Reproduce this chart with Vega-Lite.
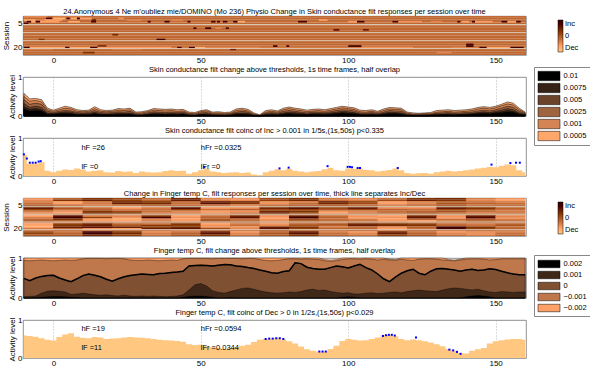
{
"$schema":"https://vega.github.io/schema/vega-lite/v6.json",
"background":"white",
"padding":{"left":1,"top":7,"right":0,"bottom":0},
"config":{
 "font":"Liberation Sans",
 "view":{"stroke":"#777","strokeWidth":0.8},
 "axis":{"labelFont":"Liberation Sans","labelFontSize":8,"labelColor":"#000","titleFont":"Liberation Sans","titleFontSize":8,"titleFontWeight":"normal","titleColor":"#000","ticks":false,"domain":false,"labelPadding":1,"titlePadding":3,"gridColor":"#999","gridDash":[1,2],"gridWidth":0.7},
 "title":{"font":"Liberation Sans","fontSize":7.5,"fontWeight":"normal","color":"#000","offset":3,"anchor":"middle"},
 "legend":{"labelFont":"Liberation Sans","labelFontSize":7.5,"labelColor":"#000"},
 "text":{"font":"Liberation Sans","fontSize":7.5}
},
"datasets":{
"ts":[
{"t":-10,"a":0.58,"b":0.5,"c":0.42,"d":0.32,"e":0.24,"f":0.18,"p":0.55,"q":1,"r":0.94,"m":0.49,"u":0.03,"w":0,"z":0.59},
{"t":-8,"a":0.44,"b":0.38,"c":0.3,"d":0.22,"e":0.17,"f":0.12,"p":0.32,"q":1,"r":0.93,"m":0.43,"u":0.04,"w":0,"z":0.58},
{"t":-6,"a":0.45,"b":0.4,"c":0.33,"d":0.25,"e":0.19,"f":0.14,"p":0.33,"q":1,"r":0.94,"m":0.5,"u":0.05,"w":0.01,"z":0.56},
{"t":-4,"a":0.42,"b":0.36,"c":0.3,"d":0.22,"e":0.16,"f":0.12,"p":0.36,"q":1,"r":0.95,"m":0.54,"u":0.12,"w":0.02,"z":0.52},
{"t":-2,"a":0.2,"b":0.16,"c":0.12,"d":0.08,"e":0.06,"f":0.04,"p":0.14,"q":1,"r":0.94,"m":0.56,"u":0.17,"w":0.03,"z":0.48},
{"t":0,"a":0.15,"b":0.12,"c":0.09,"d":0.06,"e":0.05,"f":0.04,"p":0.1,"q":1,"r":0.93,"m":0.57,"u":0.18,"w":0.04,"z":0.46},
{"t":2,"a":0.2,"b":0.16,"c":0.12,"d":0.09,"e":0.07,"f":0.05,"p":0.14,"q":1,"r":0.94,"m":0.5,"u":0.17,"w":0.04,"z":0.55},
{"t":4,"a":0.25,"b":0.2,"c":0.15,"d":0.11,"e":0.08,"f":0.06,"p":0.17,"q":1,"r":0.95,"m":0.45,"u":0.15,"w":0.03,"z":0.62},
{"t":6,"a":0.22,"b":0.18,"c":0.13,"d":0.1,"e":0.07,"f":0.05,"p":0.16,"q":1,"r":0.94,"m":0.41,"u":0.09,"w":0.02,"z":0.65},
{"t":8,"a":0.16,"b":0.12,"c":0.09,"d":0.06,"e":0.04,"f":0.03,"p":0.2,"q":1,"r":0.95,"m":0.48,"u":0.1,"w":0.01,"z":0.56},
{"t":10,"a":0.14,"b":0.11,"c":0.08,"d":0.06,"e":0.04,"f":0.03,"p":0.17,"q":1,"r":0.98,"m":0.56,"u":0.12,"w":0,"z":0.53},
{"t":12,"a":0.15,"b":0.12,"c":0.09,"d":0.06,"e":0.04,"f":0.03,"p":0.12,"q":1,"r":0.99,"m":0.6,"u":0.1,"w":0,"z":0.52},
{"t":14,"a":0.24,"b":0.19,"c":0.14,"d":0.1,"e":0.07,"f":0.05,"p":0.14,"q":1,"r":0.99,"m":0.57,"u":0.08,"w":0,"z":0.55},
{"t":16,"a":0.16,"b":0.12,"c":0.09,"d":0.06,"e":0.04,"f":0.03,"p":0.15,"q":1,"r":0.99,"m":0.53,"u":0.07,"w":0,"z":0.54},
{"t":18,"a":0.14,"b":0.11,"c":0.08,"d":0.05,"e":0.04,"f":0.03,"p":0.1,"q":1,"r":0.98,"m":0.47,"u":0.08,"w":0,"z":0.5},
{"t":20,"a":0.15,"b":0.12,"c":0.09,"d":0.06,"e":0.04,"f":0.03,"p":0.09,"q":1,"r":0.99,"m":0.42,"u":0.06,"w":0,"z":0.51},
{"t":22,"a":0.19,"b":0.15,"c":0.11,"d":0.08,"e":0.06,"f":0.04,"p":0.13,"q":1,"r":0.99,"m":0.48,"u":0.05,"w":0,"z":0.52},
{"t":24,"a":0.18,"b":0.14,"c":0.1,"d":0.07,"e":0.05,"f":0.04,"p":0.11,"q":1,"r":0.98,"m":0.53,"u":0.07,"w":0,"z":0.54},
{"t":26,"a":0.2,"b":0.16,"c":0.12,"d":0.08,"e":0.06,"f":0.04,"p":0.12,"q":1,"r":0.95,"m":0.56,"u":0.05,"w":0,"z":0.55},
{"t":28,"a":0.1,"b":0.07,"c":0.05,"d":0.03,"e":0.02,"f":0.01,"p":0.08,"q":1,"r":0.94,"m":0.58,"u":0.04,"w":0,"z":0.54},
{"t":30,"a":0.11,"b":0.08,"c":0.05,"d":0.03,"e":0.02,"f":0.01,"p":0.12,"q":1,"r":0.94,"m":0.6,"u":0.05,"w":0,"z":0.53},
{"t":32,"a":0.14,"b":0.11,"c":0.08,"d":0.05,"e":0.04,"f":0.03,"p":0.1,"q":1,"r":0.95,"m":0.59,"u":0.04,"w":0,"z":0.52},
{"t":34,"a":0.19,"b":0.15,"c":0.11,"d":0.08,"e":0.06,"f":0.04,"p":0.09,"q":1,"r":0.94,"m":0.58,"u":0.05,"w":0,"z":0.5},
{"t":36,"a":0.18,"b":0.14,"c":0.1,"d":0.07,"e":0.05,"f":0.04,"p":0.1,"q":1,"r":0.93,"m":0.61,"u":0.04,"w":0,"z":0.48},
{"t":38,"a":0.17,"b":0.13,"c":0.09,"d":0.06,"e":0.04,"f":0.03,"p":0.13,"q":1,"r":0.94,"m":0.62,"u":0.03,"w":0,"z":0.47},
{"t":40,"a":0.18,"b":0.14,"c":0.1,"d":0.07,"e":0.05,"f":0.04,"p":0.15,"q":1,"r":0.95,"m":0.64,"u":0.04,"w":0,"z":0.46},
{"t":42,"a":0.16,"b":0.12,"c":0.09,"d":0.06,"e":0.04,"f":0.03,"p":0.13,"q":1,"r":0.94,"m":0.65,"u":0.05,"w":0,"z":0.45},
{"t":44,"a":0.17,"b":0.13,"c":0.1,"d":0.07,"e":0.05,"f":0.04,"p":0.14,"q":1,"r":0.98,"m":0.67,"u":0.08,"w":0.02,"z":0.43},
{"t":46,"a":0.1,"b":0.07,"c":0.05,"d":0.03,"e":0.02,"f":0.01,"p":0.06,"q":1,"r":0.99,"m":0.8,"u":0.2,"w":0.04,"z":0.36},
{"t":48,"a":0.09,"b":0.06,"c":0.04,"d":0.02,"e":0.01,"f":0.01,"p":0.1,"q":1,"r":0.99,"m":0.81,"u":0.33,"w":0.05,"z":0.34},
{"t":50,"a":0.14,"b":0.11,"c":0.08,"d":0.05,"e":0.04,"f":0.03,"p":0.15,"q":1,"r":0.99,"m":0.82,"u":0.36,"w":0.05,"z":0.35},
{"t":52,"a":0.16,"b":0.13,"c":0.09,"d":0.06,"e":0.04,"f":0.03,"p":0.2,"q":1,"r":0.99,"m":0.81,"u":0.3,"w":0.04,"z":0.31},
{"t":54,"a":0.1,"b":0.07,"c":0.05,"d":0.03,"e":0.02,"f":0.01,"p":0.12,"q":1,"r":0.98,"m":0.8,"u":0.18,"w":0.02,"z":0.29},
{"t":56,"a":0.11,"b":0.08,"c":0.05,"d":0.03,"e":0.02,"f":0.01,"p":0.1,"q":1,"r":0.99,"m":0.82,"u":0.14,"w":0,"z":0.26},
{"t":58,"a":0.09,"b":0.06,"c":0.04,"d":0.02,"e":0.01,"f":0.01,"p":0.08,"q":1,"r":0.99,"m":0.84,"u":0.12,"w":0,"z":0.24},
{"t":60,"a":0.1,"b":0.07,"c":0.05,"d":0.03,"e":0.02,"f":0.01,"p":0.09,"q":1,"r":0.99,"m":0.83,"u":0.16,"w":0.01,"z":0.26},
{"t":62,"a":0.18,"b":0.14,"c":0.1,"d":0.07,"e":0.05,"f":0.04,"p":0.1,"q":1,"r":0.99,"m":0.8,"u":0.2,"w":0,"z":0.29},
{"t":64,"a":0.2,"b":0.16,"c":0.12,"d":0.08,"e":0.06,"f":0.04,"p":0.08,"q":1,"r":0.98,"m":0.79,"u":0.24,"w":0,"z":0.32},
{"t":66,"a":0.17,"b":0.13,"c":0.1,"d":0.07,"e":0.05,"f":0.03,"p":0.09,"q":1,"r":0.99,"m":0.76,"u":0.25,"w":0,"z":0.35},
{"t":68,"a":0.08,"b":0.05,"c":0.03,"d":0.02,"e":0.01,"f":0,"p":0.04,"q":1,"r":0.99,"m":0.74,"u":0.22,"w":0,"z":0.42},
{"t":70,"a":0.03,"b":0.02,"c":0.01,"d":0,"e":0,"f":0,"p":0.02,"q":1,"r":0.96,"m":0.7,"u":0.18,"w":0,"z":0.48},
{"t":72,"a":0.14,"b":0.1,"c":0.07,"d":0.05,"e":0.03,"f":0.02,"p":0.1,"q":1,"r":0.94,"m":0.67,"u":0.15,"w":0,"z":0.5},
{"t":74,"a":0.16,"b":0.12,"c":0.09,"d":0.06,"e":0.04,"f":0.03,"p":0.14,"q":1,"r":0.93,"m":0.63,"u":0.13,"w":0,"z":0.51},
{"t":76,"a":0.13,"b":0.1,"c":0.07,"d":0.05,"e":0.03,"f":0.02,"p":0.18,"q":1,"r":0.94,"m":0.62,"u":0.12,"w":0,"z":0.52},
{"t":78,"a":0.2,"b":0.16,"c":0.12,"d":0.08,"e":0.06,"f":0.04,"p":0.15,"q":1,"r":0.96,"m":0.66,"u":0.13,"w":0,"z":0.49},
{"t":80,"a":0.23,"b":0.19,"c":0.14,"d":0.1,"e":0.07,"f":0.05,"p":0.19,"q":1,"r":0.98,"m":0.68,"u":0.15,"w":0,"z":0.44},
{"t":82,"a":0.2,"b":0.16,"c":0.12,"d":0.09,"e":0.06,"f":0.04,"p":0.14,"q":1,"r":0.98,"m":0.88,"u":0.14,"w":0,"z":0.38},
{"t":84,"a":0.18,"b":0.14,"c":0.1,"d":0.07,"e":0.05,"f":0.04,"p":0.12,"q":1,"r":0.97,"m":0.86,"u":0.16,"w":0,"z":0.3},
{"t":86,"a":0.15,"b":0.11,"c":0.08,"d":0.05,"e":0.04,"f":0.03,"p":0.1,"q":1,"r":0.98,"m":0.77,"u":0.2,"w":0,"z":0.23},
{"t":88,"a":0.17,"b":0.13,"c":0.1,"d":0.07,"e":0.05,"f":0.04,"p":0.12,"q":1,"r":0.97,"m":0.74,"u":0.22,"w":0,"z":0.19},
{"t":90,"a":0.18,"b":0.14,"c":0.1,"d":0.07,"e":0.05,"f":0.04,"p":0.13,"q":1,"r":0.96,"m":0.72,"u":0.19,"w":0,"z":0.17},
{"t":92,"a":0.16,"b":0.12,"c":0.09,"d":0.06,"e":0.04,"f":0.03,"p":0.18,"q":0.96,"r":0.93,"m":0.72,"u":0.2,"w":0,"z":0.17},
{"t":94,"a":0.19,"b":0.15,"c":0.11,"d":0.08,"e":0.06,"f":0.04,"p":0.22,"q":0.95,"r":0.92,"m":0.76,"u":0.16,"w":0,"z":0.24},
{"t":96,"a":0.22,"b":0.18,"c":0.14,"d":0.1,"e":0.07,"f":0.05,"p":0.15,"q":0.96,"r":0.93,"m":0.8,"u":0.14,"w":0,"z":0.32},
{"t":98,"a":0.25,"b":0.21,"c":0.16,"d":0.12,"e":0.09,"f":0.07,"p":0.14,"q":1,"r":0.96,"m":0.78,"u":0.12,"w":0.02,"z":0.45},
{"t":100,"a":0.23,"b":0.19,"c":0.15,"d":0.11,"e":0.08,"f":0.06,"p":0.2,"q":1,"r":0.98,"m":0.75,"u":0.13,"w":0.03,"z":0.5},
{"t":102,"a":0.21,"b":0.17,"c":0.13,"d":0.09,"e":0.07,"f":0.05,"p":0.19,"q":1,"r":0.98,"m":0.8,"u":0.1,"w":0.02,"z":0.48},
{"t":104,"a":0.15,"b":0.11,"c":0.08,"d":0.05,"e":0.04,"f":0.03,"p":0.2,"q":1,"r":0.97,"m":0.84,"u":0.1,"w":0,"z":0.46},
{"t":106,"a":0.14,"b":0.1,"c":0.07,"d":0.05,"e":0.03,"f":0.02,"p":0.16,"q":1,"r":0.98,"m":0.76,"u":0.12,"w":0,"z":0.47},
{"t":108,"a":0.16,"b":0.12,"c":0.09,"d":0.06,"e":0.04,"f":0.03,"p":0.15,"q":1,"r":0.97,"m":0.7,"u":0.13,"w":0,"z":0.5},
{"t":110,"a":0.12,"b":0.09,"c":0.06,"d":0.04,"e":0.03,"f":0.02,"p":0.12,"q":1,"r":0.95,"m":0.6,"u":0.11,"w":0,"z":0.54},
{"t":112,"a":0.18,"b":0.14,"c":0.1,"d":0.07,"e":0.05,"f":0.04,"p":0.14,"q":1,"r":0.97,"m":0.48,"u":0.12,"w":0,"z":0.6},
{"t":114,"a":0.22,"b":0.18,"c":0.14,"d":0.1,"e":0.07,"f":0.05,"p":0.16,"q":0.97,"r":0.95,"m":0.41,"u":0.14,"w":0,"z":0.61},
{"t":116,"a":0.21,"b":0.17,"c":0.13,"d":0.09,"e":0.07,"f":0.05,"p":0.2,"q":0.96,"r":0.94,"m":0.52,"u":0.15,"w":0,"z":0.57},
{"t":118,"a":0.2,"b":0.16,"c":0.12,"d":0.08,"e":0.06,"f":0.04,"p":0.15,"q":1,"r":0.97,"m":0.62,"u":0.13,"w":0,"z":0.5},
{"t":120,"a":0.1,"b":0.07,"c":0.05,"d":0.03,"e":0.02,"f":0.01,"p":0.08,"q":1,"r":0.95,"m":0.68,"u":0.16,"w":0,"z":0.47},
{"t":122,"a":0.08,"b":0.05,"c":0.03,"d":0.02,"e":0.01,"f":0.01,"p":0.06,"q":1,"r":0.94,"m":0.72,"u":0.18,"w":0,"z":0.49},
{"t":124,"a":0.07,"b":0.05,"c":0.03,"d":0.02,"e":0.01,"f":0,"p":0.07,"q":1,"r":0.97,"m":0.62,"u":0.2,"w":0,"z":0.47},
{"t":126,"a":0.08,"b":0.06,"c":0.04,"d":0.02,"e":0.01,"f":0,"p":0.08,"q":1,"r":0.98,"m":0.58,"u":0.18,"w":0,"z":0.44},
{"t":128,"a":0.09,"b":0.06,"c":0.04,"d":0.03,"e":0.02,"f":0.01,"p":0.06,"q":1,"r":0.98,"m":0.67,"u":0.17,"w":0,"z":0.41},
{"t":130,"a":0.14,"b":0.1,"c":0.07,"d":0.05,"e":0.03,"f":0.02,"p":0.1,"q":1,"r":0.97,"m":0.73,"u":0.16,"w":0,"z":0.36},
{"t":132,"a":0.15,"b":0.11,"c":0.08,"d":0.05,"e":0.04,"f":0.03,"p":0.12,"q":1,"r":0.95,"m":0.74,"u":0.2,"w":0,"z":0.31},
{"t":134,"a":0.16,"b":0.12,"c":0.09,"d":0.06,"e":0.04,"f":0.03,"p":0.14,"q":0.96,"r":0.94,"m":0.72,"u":0.23,"w":0,"z":0.24},
{"t":136,"a":0.14,"b":0.1,"c":0.07,"d":0.05,"e":0.03,"f":0.02,"p":0.12,"q":0.95,"r":0.93,"m":0.7,"u":0.25,"w":0,"z":0.2},
{"t":138,"a":0.15,"b":0.11,"c":0.08,"d":0.05,"e":0.04,"f":0.03,"p":0.13,"q":0.97,"r":0.95,"m":0.67,"u":0.24,"w":0,"z":0.13},
{"t":140,"a":0.16,"b":0.12,"c":0.09,"d":0.06,"e":0.04,"f":0.03,"p":0.15,"q":1,"r":0.97,"m":0.7,"u":0.22,"w":0.03,"z":0.12},
{"t":142,"a":0.18,"b":0.14,"c":0.1,"d":0.07,"e":0.05,"f":0.04,"p":0.17,"q":1,"r":0.98,"m":0.72,"u":0.2,"w":0.05,"z":0.19},
{"t":144,"a":0.22,"b":0.18,"c":0.13,"d":0.09,"e":0.07,"f":0.05,"p":0.2,"q":1,"r":0.98,"m":0.69,"u":0.22,"w":0.06,"z":0.23},
{"t":146,"a":0.24,"b":0.2,"c":0.15,"d":0.11,"e":0.08,"f":0.06,"p":0.22,"q":1,"r":0.97,"m":0.7,"u":0.18,"w":0.05,"z":0.26},
{"t":148,"a":0.22,"b":0.18,"c":0.13,"d":0.09,"e":0.07,"f":0.05,"p":0.24,"q":1,"r":0.95,"m":0.73,"u":0.15,"w":0.03,"z":0.38},
{"t":150,"a":0.25,"b":0.21,"c":0.16,"d":0.12,"e":0.09,"f":0.07,"p":0.23,"q":1,"r":0.96,"m":0.71,"u":0.14,"w":0,"z":0.44},
{"t":152,"a":0.3,"b":0.26,"c":0.2,"d":0.15,"e":0.11,"f":0.08,"p":0.27,"q":1,"r":0.98,"m":0.67,"u":0.16,"w":0,"z":0.47},
{"t":154,"a":0.36,"b":0.31,"c":0.25,"d":0.19,"e":0.14,"f":0.1,"p":0.3,"q":1,"r":0.98,"m":0.63,"u":0.15,"w":0,"z":0.49},
{"t":156,"a":0.33,"b":0.28,"c":0.22,"d":0.16,"e":0.12,"f":0.09,"p":0.28,"q":1,"r":0.98,"m":0.6,"u":0.14,"w":0,"z":0.5},
{"t":158,"a":0.2,"b":0.16,"c":0.12,"d":0.08,"e":0.06,"f":0.04,"p":0.15,"q":1,"r":0.98,"m":0.58,"u":0.15,"w":0,"z":0.5},
{"t":160,"a":0.1,"b":0.08,"c":0.06,"d":0.04,"e":0.03,"f":0.02,"p":0.1,"q":1,"r":0.98,"m":0.58,"u":0.15,"w":0,"z":0.48}
],
"h1":[
{"s":1,"t":-10.3,"t2":160.3,"v":-0.17},{"s":2,"t":-10.3,"t2":160.3,"v":-0.15},{"s":3,"t":-10.3,"t2":160.3,"v":-0.15},{"s":4,"t":-10.3,"t2":160.3,"v":-0.18},
{"s":5,"t":-10.3,"t2":160.3,"v":-0.14},{"s":6,"t":-10.3,"t2":160.3,"v":-0.15},{"s":7,"t":-10.3,"t2":160.3,"v":-0.16},{"s":8,"t":-10.3,"t2":160.3,"v":-0.15},
{"s":9,"t":-10.3,"t2":160.3,"v":-0.14},{"s":10,"t":-10.3,"t2":160.3,"v":-0.15},{"s":11,"t":-10.3,"t2":160.3,"v":-0.15},{"s":12,"t":-10.3,"t2":160.3,"v":-0.16},
{"s":13,"t":-10.3,"t2":160.3,"v":-0.15},{"s":14,"t":-10.3,"t2":160.3,"v":-0.14},{"s":15,"t":-10.3,"t2":160.3,"v":-0.15},{"s":16,"t":-10.3,"t2":160.3,"v":-0.15},
{"s":17,"t":-10.3,"t2":160.3,"v":-0.16},{"s":18,"t":-10.3,"t2":160.3,"v":-0.15},{"s":19,"t":-10.3,"t2":160.3,"v":-0.17},{"s":20,"t":-10.3,"t2":160.3,"v":-0.3},
{"s":21,"t":-10.3,"t2":160.3,"v":-0.15},{"s":22,"t":-10.3,"t2":160.3,"v":-0.14},{"s":23,"t":-10.3,"t2":160.3,"v":-0.15},{"s":24,"t":-10.3,"t2":160.3,"v":-0.13},
{"s":1,"t":-10,"t2":-2,"v":-0.4},{"s":1,"t":0,"t2":10,"v":-0.3},
{"s":2,"t":-2.5,"t2":-0.5,"v":0.9},{"s":2,"t":0,"t2":4,"v":-0.8},{"s":2,"t":4.5,"t2":5.5,"v":0.9},{"s":2,"t":6,"t2":8,"v":-0.7},{"s":2,"t":8,"t2":9,"v":0.9},{"s":2,"t":9,"t2":13,"v":-0.6},{"s":2,"t":22,"t2":24,"v":-0.5},
{"s":3,"t":-10,"t2":-6,"v":-0.7},{"s":3,"t":-6,"t2":-3,"v":-0.4},{"s":3,"t":-3,"t2":3,"v":-0.6},{"s":3,"t":13,"t2":14.5,"v":0.5},{"s":3,"t":25,"t2":30,"v":-0.4},{"s":3,"t":40,"t2":44,"v":-0.4},{"s":3,"t":90,"t2":93,"v":-0.6},
{"s":4,"t":-9,"t2":-7.5,"v":0.9},{"s":4,"t":-7.5,"t2":-6,"v":-0.7},{"s":4,"t":-6,"t2":-4.5,"v":0.9},{"s":4,"t":-4.5,"t2":2,"v":-0.6},{"s":4,"t":5,"t2":9,"v":-0.7},{"s":4,"t":12.8,"t2":14.5,"v":0.8},{"s":4,"t":32,"t2":33,"v":0.8},{"s":4,"t":37.7,"t2":39.4,"v":0.9},{"s":4,"t":45.5,"t2":46.5,"v":0.8},{"s":4,"t":53.5,"t2":55,"v":0.9},{"s":4,"t":55.5,"t2":56.5,"v":0.8},{"s":4,"t":57.5,"t2":59,"v":0.9},{"s":4,"t":61,"t2":62.5,"v":0.9},{"s":4,"t":62.5,"t2":65,"v":-0.7},{"s":4,"t":83,"t2":86,"v":0.9},{"s":4,"t":100,"t2":103,"v":-0.6},{"s":4,"t":103,"t2":105.5,"v":0.9},{"s":4,"t":115,"t2":117,"v":0.8},{"s":4,"t":117,"t2":125,"v":-0.5},{"s":4,"t":128,"t2":132,"v":-0.4},{"s":4,"t":137,"t2":138,"v":0.8},{"s":4,"t":138.5,"t2":141,"v":-0.6},{"s":4,"t":142,"t2":143,"v":0.9},{"s":4,"t":143,"t2":149,"v":-0.6},{"s":4,"t":152,"t2":154,"v":0.9},{"s":4,"t":154,"t2":157,"v":-0.6},{"s":4,"t":157,"t2":158.5,"v":0.9},
{"s":5,"t":-10,"t2":-8.5,"v":0.7},
{"s":8,"t":47.5,"t2":48.5,"v":0.9},{"s":8,"t":51.5,"t2":53.5,"v":0.9},{"s":8,"t":55,"t2":57,"v":-0.4},{"s":8,"t":58.5,"t2":59.5,"v":0.8},
{"s":9,"t":95,"t2":97,"v":0.6},{"s":9,"t":105,"t2":107,"v":0.5},
{"s":12,"t":20,"t2":22,"v":0.4},
{"s":15,"t":35,"t2":38,"v":0.9},{"s":15,"t":-5,"t2":-3,"v":0.3},
{"s":18,"t":140,"t2":142.5,"v":0.8},
{"s":19,"t":74.5,"t2":76,"v":0.9},{"s":19,"t":79,"t2":80,"v":0.8},{"s":19,"t":100,"t2":104.5,"v":0.9},{"s":19,"t":140,"t2":142.5,"v":0.9},{"s":19,"t":15,"t2":18,"v":0.5},
{"s":20,"t":-10,"t2":-8,"v":0.9},{"s":20,"t":-8,"t2":4,"v":-0.7},{"s":20,"t":4,"t2":5.5,"v":0.9},{"s":20,"t":5.5,"t2":12.5,"v":-0.7},{"s":20,"t":12.5,"t2":15,"v":0.9},{"s":20,"t":15,"t2":40,"v":-0.6},{"s":20,"t":42,"t2":43.5,"v":0.9},{"s":20,"t":46,"t2":48,"v":0.9},{"s":20,"t":48,"t2":51.5,"v":-0.8},{"s":20,"t":51.5,"t2":70,"v":-0.4},{"s":20,"t":104.5,"t2":122,"v":-0.5},{"s":20,"t":135,"t2":140,"v":-0.4},{"s":20,"t":144.5,"t2":147,"v":0.9},{"s":20,"t":147,"t2":155,"v":-0.7},{"s":20,"t":155,"t2":159.5,"v":0.9},
{"s":21,"t":-10,"t2":0,"v":-0.3},{"s":21,"t":20,"t2":30,"v":-0.3},{"s":21,"t":60,"t2":62,"v":0.6},
{"s":23,"t":10,"t2":14,"v":0.3},{"s":23,"t":130,"t2":135,"v":-0.4}
],
"sep":[{"s":5.75},{"s":10.75},{"s":15.7},{"s":20.55}],
"h2":[
{"s":1,"t":-5,"v":-0.5},{"s":1,"t":5,"v":-0.1},{"s":1,"t":15,"v":0.3},{"s":1,"t":25,"v":0.1},{"s":1,"t":35,"v":-0.2},{"s":1,"t":45,"v":0.4},{"s":1,"t":55,"v":-0.4},{"s":1,"t":65,"v":-0.5},{"s":1,"t":75,"v":0.1},{"s":1,"t":85,"v":0.3},{"s":1,"t":95,"v":-0.3},{"s":1,"t":105,"v":-0.4},{"s":1,"t":115,"v":-0.2},{"s":1,"t":125,"v":0.3},{"s":1,"t":135,"v":0.4},{"s":1,"t":145,"v":-0.3},{"s":1,"t":155,"v":-0.5},
{"s":2,"t":-5,"v":-0.4},{"s":2,"t":5,"v":0.3},{"s":2,"t":15,"v":0.5},{"s":2,"t":25,"v":0.2},{"s":2,"t":35,"v":-0.1},{"s":2,"t":45,"v":0.5},{"s":2,"t":55,"v":-0.3},{"s":2,"t":65,"v":-0.4},{"s":2,"t":75,"v":0.2},{"s":2,"t":85,"v":0.4},{"s":2,"t":95,"v":-0.2},{"s":2,"t":105,"v":-0.3},{"s":2,"t":115,"v":0.1},{"s":2,"t":125,"v":0.5},{"s":2,"t":135,"v":0.3},{"s":2,"t":145,"v":-0.4},{"s":2,"t":155,"v":-0.6},
{"s":3,"t":-5,"v":-0.3},{"s":3,"t":5,"v":-0.5},{"s":3,"t":15,"v":-0.2},{"s":3,"t":25,"v":0.4},{"s":3,"t":35,"v":0.3},{"s":3,"t":45,"v":-0.1},{"s":3,"t":55,"v":0.5},{"s":3,"t":65,"v":0.4},{"s":3,"t":75,"v":-0.4},{"s":3,"t":85,"v":-0.3},{"s":3,"t":95,"v":0.5},{"s":3,"t":105,"v":0.2},{"s":3,"t":115,"v":-0.5},{"s":3,"t":125,"v":-0.3},{"s":3,"t":135,"v":-0.1},{"s":3,"t":145,"v":-0.2},{"s":3,"t":155,"v":-0.3},
{"s":4,"t":-5,"v":-0.2},{"s":4,"t":5,"v":-0.6},{"s":4,"t":15,"v":-0.3},{"s":4,"t":25,"v":0.5},{"s":4,"t":35,"v":0.4},{"s":4,"t":45,"v":-0.2},{"s":4,"t":55,"v":0.6},{"s":4,"t":65,"v":0.3},{"s":4,"t":75,"v":-0.5},{"s":4,"t":85,"v":-0.2},{"s":4,"t":95,"v":0.4},{"s":4,"t":105,"v":0.1},{"s":4,"t":115,"v":-0.6},{"s":4,"t":125,"v":-0.4},{"s":4,"t":135,"v":0},{"s":4,"t":145,"v":-0.1},{"s":4,"t":155,"v":-0.2},
{"s":5,"t":-5,"v":-0.1},{"s":5,"t":5,"v":-0.2},{"s":5,"t":15,"v":-0.3},{"s":5,"t":25,"v":-0.1},{"s":5,"t":35,"v":0},{"s":5,"t":45,"v":-0.2},{"s":5,"t":55,"v":-0.1},{"s":5,"t":65,"v":-0.3},{"s":5,"t":75,"v":-0.2},{"s":5,"t":85,"v":-0.1},{"s":5,"t":95,"v":0},{"s":5,"t":105,"v":-0.2},{"s":5,"t":115,"v":-0.3},{"s":5,"t":125,"v":-0.1},{"s":5,"t":135,"v":0},{"s":5,"t":145,"v":-0.2},{"s":5,"t":155,"v":-0.1},
{"s":6,"t":-5,"v":0.4},{"s":6,"t":5,"v":-0.1},{"s":6,"t":15,"v":-0.3},{"s":6,"t":25,"v":-0.6},{"s":6,"t":35,"v":-0.2},{"s":6,"t":45,"v":0.5},{"s":6,"t":55,"v":-0.4},{"s":6,"t":65,"v":-0.5},{"s":6,"t":75,"v":0.3},{"s":6,"t":85,"v":0.5},{"s":6,"t":95,"v":0.2},{"s":6,"t":105,"v":0.4},{"s":6,"t":115,"v":-0.3},{"s":6,"t":125,"v":-0.5},{"s":6,"t":135,"v":0.4},{"s":6,"t":145,"v":0.2},{"s":6,"t":155,"v":-0.2},
{"s":7,"t":-5,"v":0.5},{"s":7,"t":5,"v":0},{"s":7,"t":15,"v":-0.2},{"s":7,"t":25,"v":-0.5},{"s":7,"t":35,"v":-0.3},{"s":7,"t":45,"v":0.6},{"s":7,"t":55,"v":-0.5},{"s":7,"t":65,"v":-0.4},{"s":7,"t":75,"v":0.4},{"s":7,"t":85,"v":0.6},{"s":7,"t":95,"v":0.1},{"s":7,"t":105,"v":0.5},{"s":7,"t":115,"v":-0.4},{"s":7,"t":125,"v":-0.4},{"s":7,"t":135,"v":0.5},{"s":7,"t":145,"v":0.3},{"s":7,"t":155,"v":-0.1},
{"s":8,"t":-5,"v":0.2},{"s":8,"t":5,"v":-0.2},{"s":8,"t":15,"v":-0.1},{"s":8,"t":25,"v":-0.3},{"s":8,"t":35,"v":-0.2},{"s":8,"t":45,"v":0.2},{"s":8,"t":55,"v":-0.2},{"s":8,"t":65,"v":-0.1},{"s":8,"t":75,"v":0.1},{"s":8,"t":85,"v":0.2},{"s":8,"t":95,"v":0},{"s":8,"t":105,"v":0.1},{"s":8,"t":115,"v":-0.1},{"s":8,"t":125,"v":-0.2},{"s":8,"t":135,"v":0.1},{"s":8,"t":145,"v":0},{"s":8,"t":155,"v":-0.2},
{"s":9,"t":-5,"v":-0.3},{"s":9,"t":5,"v":-0.5},{"s":9,"t":15,"v":0.3},{"s":9,"t":25,"v":0.1},{"s":9,"t":35,"v":-0.2},{"s":9,"t":45,"v":-0.4},{"s":9,"t":55,"v":-0.6},{"s":9,"t":65,"v":-0.5},{"s":9,"t":75,"v":0.4},{"s":9,"t":85,"v":0.3},{"s":9,"t":95,"v":-0.5},{"s":9,"t":105,"v":-0.4},{"s":9,"t":115,"v":-0.2},{"s":9,"t":125,"v":-0.1},{"s":9,"t":135,"v":0},{"s":9,"t":145,"v":-0.2},{"s":9,"t":155,"v":-0.3},
{"s":10,"t":-5,"v":-0.4},{"s":10,"t":5,"v":-0.6},{"s":10,"t":15,"v":0.4},{"s":10,"t":25,"v":0.3},{"s":10,"t":35,"v":-0.3},{"s":10,"t":45,"v":-0.3},{"s":10,"t":55,"v":-0.5},{"s":10,"t":65,"v":-0.3},{"s":10,"t":75,"v":0.5},{"s":10,"t":85,"v":0.2},{"s":10,"t":95,"v":-0.6},{"s":10,"t":105,"v":-0.3},{"s":10,"t":115,"v":-0.1},{"s":10,"t":125,"v":0},{"s":10,"t":135,"v":-0.1},{"s":10,"t":145,"v":-0.3},{"s":10,"t":155,"v":-0.2},
{"s":11,"t":-5,"v":-0.5},{"s":11,"t":5,"v":0.1},{"s":11,"t":15,"v":0},{"s":11,"t":25,"v":-0.2},{"s":11,"t":35,"v":-0.1},{"s":11,"t":45,"v":-0.3},{"s":11,"t":55,"v":-0.2},{"s":11,"t":65,"v":-0.1},{"s":11,"t":75,"v":0},{"s":11,"t":85,"v":-0.2},{"s":11,"t":95,"v":-0.1},{"s":11,"t":105,"v":-0.2},{"s":11,"t":115,"v":-0.3},{"s":11,"t":125,"v":-0.1},{"s":11,"t":135,"v":-0.2},{"s":11,"t":145,"v":-0.1},{"s":11,"t":155,"v":-0.3},
{"s":12,"t":-5,"v":-0.6},{"s":12,"t":5,"v":0.6},{"s":12,"t":15,"v":-0.3},{"s":12,"t":25,"v":-0.4},{"s":12,"t":35,"v":0.3},{"s":12,"t":45,"v":-0.6},{"s":12,"t":55,"v":-0.2},{"s":12,"t":65,"v":0.4},{"s":12,"t":75,"v":-0.5},{"s":12,"t":85,"v":0.5},{"s":12,"t":95,"v":-0.2},{"s":12,"t":105,"v":-0.5},{"s":12,"t":115,"v":-0.6},{"s":12,"t":125,"v":0.4},{"s":12,"t":135,"v":-0.5},{"s":12,"t":145,"v":0.5},{"s":12,"t":155,"v":-0.4},
{"s":13,"t":-5,"v":-0.3},{"s":13,"t":5,"v":0.9},{"s":13,"t":15,"v":0.2},{"s":13,"t":25,"v":-0.5},{"s":13,"t":35,"v":0.8},{"s":13,"t":45,"v":-0.5},{"s":13,"t":55,"v":-0.1},{"s":13,"t":65,"v":0.6},{"s":13,"t":75,"v":-0.6},{"s":13,"t":85,"v":0.9},{"s":13,"t":95,"v":-0.1},{"s":13,"t":105,"v":-0.6},{"s":13,"t":115,"v":-0.5},{"s":13,"t":125,"v":0.6},{"s":13,"t":135,"v":-0.6},{"s":13,"t":145,"v":0.7},{"s":13,"t":155,"v":-0.5},
{"s":14,"t":-5,"v":-0.1},{"s":14,"t":5,"v":0.3},{"s":14,"t":15,"v":-0.6},{"s":14,"t":25,"v":-0.7},{"s":14,"t":35,"v":-0.4},{"s":14,"t":45,"v":-0.6},{"s":14,"t":55,"v":0},{"s":14,"t":65,"v":-0.2},{"s":14,"t":75,"v":-0.5},{"s":14,"t":85,"v":0.1},{"s":14,"t":95,"v":-0.2},{"s":14,"t":105,"v":-0.3},{"s":14,"t":115,"v":-0.6},{"s":14,"t":125,"v":-0.1},{"s":14,"t":135,"v":-0.2},{"s":14,"t":145,"v":0},{"s":14,"t":155,"v":-0.3},
{"s":15,"t":-5,"v":0},{"s":15,"t":5,"v":0},{"s":15,"t":15,"v":-0.5},{"s":15,"t":25,"v":-0.6},{"s":15,"t":35,"v":-0.3},{"s":15,"t":45,"v":-0.5},{"s":15,"t":55,"v":0.1},{"s":15,"t":65,"v":-0.1},{"s":15,"t":75,"v":-0.4},{"s":15,"t":85,"v":0},{"s":15,"t":95,"v":-0.1},{"s":15,"t":105,"v":-0.2},{"s":15,"t":115,"v":-0.5},{"s":15,"t":125,"v":-0.6},{"s":15,"t":135,"v":-0.3},{"s":15,"t":145,"v":-0.1},{"s":15,"t":155,"v":-0.2},
{"s":16,"t":-5,"v":-0.2},{"s":16,"t":5,"v":-0.3},{"s":16,"t":15,"v":-0.1},{"s":16,"t":25,"v":-0.2},{"s":16,"t":35,"v":0},{"s":16,"t":45,"v":-0.1},{"s":16,"t":55,"v":-0.2},{"s":16,"t":65,"v":0},{"s":16,"t":75,"v":-0.3},{"s":16,"t":85,"v":-0.1},{"s":16,"t":95,"v":-0.2},{"s":16,"t":105,"v":0},{"s":16,"t":115,"v":-0.1},{"s":16,"t":125,"v":-0.2},{"s":16,"t":135,"v":-0.1},{"s":16,"t":145,"v":0},{"s":16,"t":155,"v":-0.2},
{"s":17,"t":-5,"v":-0.6},{"s":17,"t":5,"v":0.2},{"s":17,"t":15,"v":0.4},{"s":17,"t":25,"v":-0.1},{"s":17,"t":35,"v":-0.2},{"s":17,"t":45,"v":0.3},{"s":17,"t":55,"v":-0.6},{"s":17,"t":65,"v":-0.3},{"s":17,"t":75,"v":-0.5},{"s":17,"t":85,"v":-0.1},{"s":17,"t":95,"v":0},{"s":17,"t":105,"v":0.4},{"s":17,"t":115,"v":0.3},{"s":17,"t":125,"v":0.2},{"s":17,"t":135,"v":-0.2},{"s":17,"t":145,"v":-0.3},{"s":17,"t":155,"v":-0.1},
{"s":18,"t":-5,"v":-0.7},{"s":18,"t":5,"v":0.3},{"s":18,"t":15,"v":0.5},{"s":18,"t":25,"v":0},{"s":18,"t":35,"v":0.3},{"s":18,"t":45,"v":0.2},{"s":18,"t":55,"v":-0.5},{"s":18,"t":65,"v":-0.2},{"s":18,"t":75,"v":-0.4},{"s":18,"t":85,"v":0},{"s":18,"t":95,"v":-0.1},{"s":18,"t":105,"v":0.5},{"s":18,"t":115,"v":0.4},{"s":18,"t":125,"v":0.3},{"s":18,"t":135,"v":-0.1},{"s":18,"t":145,"v":-0.2},{"s":18,"t":155,"v":0},
{"s":19,"t":-5,"v":-0.6},{"s":19,"t":5,"v":0.5},{"s":19,"t":15,"v":0.6},{"s":19,"t":25,"v":0.5},{"s":19,"t":35,"v":0.2},{"s":19,"t":45,"v":0.4},{"s":19,"t":55,"v":-0.4},{"s":19,"t":65,"v":-0.5},{"s":19,"t":75,"v":0.5},{"s":19,"t":85,"v":0.3},{"s":19,"t":95,"v":-0.3},{"s":19,"t":105,"v":-0.2},{"s":19,"t":115,"v":-0.5},{"s":19,"t":125,"v":-0.1},{"s":19,"t":135,"v":0.9},{"s":19,"t":145,"v":0.3},{"s":19,"t":155,"v":-0.2},
{"s":20,"t":-5,"v":-0.3},{"s":20,"t":5,"v":-0.1},{"s":20,"t":15,"v":-0.5},{"s":20,"t":25,"v":-0.6},{"s":20,"t":35,"v":0.5},{"s":20,"t":45,"v":0.6},{"s":20,"t":55,"v":0.1},{"s":20,"t":65,"v":-0.4},{"s":20,"t":75,"v":0.6},{"s":20,"t":85,"v":0.2},{"s":20,"t":95,"v":-0.1},{"s":20,"t":105,"v":-0.1},{"s":20,"t":115,"v":-0.6},{"s":20,"t":125,"v":-0.2},{"s":20,"t":135,"v":0.8},{"s":20,"t":145,"v":0.2},{"s":20,"t":155,"v":-0.1},
{"s":21,"t":-5,"v":-0.2},{"s":21,"t":5,"v":-0.1},{"s":21,"t":15,"v":-0.2},{"s":21,"t":25,"v":-0.1},{"s":21,"t":35,"v":-0.2},{"s":21,"t":45,"v":-0.3},{"s":21,"t":55,"v":-0.1},{"s":21,"t":65,"v":-0.2},{"s":21,"t":75,"v":0},{"s":21,"t":85,"v":-0.1},{"s":21,"t":95,"v":-0.2},{"s":21,"t":105,"v":-0.1},{"s":21,"t":115,"v":-0.3},{"s":21,"t":125,"v":-0.1},{"s":21,"t":135,"v":-0.2},{"s":21,"t":145,"v":-0.1},{"s":21,"t":155,"v":-0.2},
{"s":22,"t":-5,"v":0.1},{"s":22,"t":5,"v":-0.2},{"s":22,"t":15,"v":0.8},{"s":22,"t":25,"v":0.3},{"s":22,"t":35,"v":-0.4},{"s":22,"t":45,"v":-0.2},{"s":22,"t":55,"v":0.5},{"s":22,"t":65,"v":-0.5},{"s":22,"t":75,"v":-0.1},{"s":22,"t":85,"v":0.5},{"s":22,"t":95,"v":-0.3},{"s":22,"t":105,"v":-0.5},{"s":22,"t":115,"v":0.4},{"s":22,"t":125,"v":-0.2},{"s":22,"t":135,"v":-0.5},{"s":22,"t":145,"v":-0.4},{"s":22,"t":155,"v":-0.3},
{"s":23,"t":-5,"v":0.2},{"s":23,"t":5,"v":-0.1},{"s":23,"t":15,"v":0.9},{"s":23,"t":25,"v":0.4},{"s":23,"t":35,"v":-0.3},{"s":23,"t":45,"v":-0.1},{"s":23,"t":55,"v":0.6},{"s":23,"t":65,"v":-0.4},{"s":23,"t":75,"v":0},{"s":23,"t":85,"v":0.6},{"s":23,"t":95,"v":-0.2},{"s":23,"t":105,"v":-0.4},{"s":23,"t":115,"v":0.5},{"s":23,"t":125,"v":-0.1},{"s":23,"t":135,"v":-0.4},{"s":23,"t":145,"v":-0.5},{"s":23,"t":155,"v":-0.2},
{"s":24,"t":-5,"v":0},{"s":24,"t":5,"v":0},{"s":24,"t":15,"v":0.4},{"s":24,"t":25,"v":0.2},{"s":24,"t":35,"v":-0.2},{"s":24,"t":45,"v":0},{"s":24,"t":55,"v":0.3},{"s":24,"t":65,"v":-0.2},{"s":24,"t":75,"v":0},{"s":24,"t":85,"v":0.3},{"s":24,"t":95,"v":-0.1},{"s":24,"t":105,"v":-0.2},{"s":24,"t":115,"v":0.2},{"s":24,"t":125,"v":0},{"s":24,"t":135,"v":-0.2},{"s":24,"t":145,"v":-0.3},{"s":24,"t":155,"v":-0.1}
],
"b1":[{"t":-10,"v":0.57},{"t":-9,"v":0.46},{"t":-8,"v":0.35},{"t":-7,"v":0.35},{"t":-6,"v":0.35},{"t":-5,"v":0.38},{"t":-4.3,"v":0.39},{"t":51.2,"v":0.23},{"t":76.7,"v":0.2},{"t":79.8,"v":0.22},{"t":93,"v":0.26},{"t":99.8,"v":0.24},{"t":100.6,"v":0.24},{"t":101.3,"v":0.23},{"t":103.2,"v":0.21},{"t":104,"v":0.21},{"t":116.8,"v":0.21},{"t":148.6,"v":0.3},{"t":155,"v":0.34},{"t":156.9,"v":0.35},{"t":158.2,"v":0.35}],
"b2":[{"t":72,"v":0.5},{"t":73.2,"v":0.51},{"t":74.4,"v":0.51},{"t":75.6,"v":0.52},{"t":76.8,"v":0.52},{"t":78,"v":0.5},{"t":90.2,"v":0.17},{"t":91.3,"v":0.17},{"t":92.4,"v":0.17},{"t":111.8,"v":0.58},{"t":112.8,"v":0.6},{"t":113.8,"v":0.61},{"t":114.8,"v":0.61},{"t":115.8,"v":0.59},{"t":123,"v":0.54},{"t":134.3,"v":0.22},{"t":135.6,"v":0.2},{"t":136.9,"v":0.16},{"t":138.1,"v":0.11}],
"l1":[{"t":9.5,"v":0.75,"txt":"hF =26"},{"t":50,"v":0.75,"txt":"hFr =0.0325"},{"t":9.5,"v":0.24,"txt":"lF =0"},{"t":50,"v":0.24,"txt":"lFr =0"}],
"l2":[{"t":9.5,"v":0.76,"txt":"hF =19"},{"t":50,"v":0.76,"txt":"hFr =0.0594"},{"t":9.5,"v":0.26,"txt":"lF =11"},{"t":50,"v":0.26,"txt":"lFr =0.0344"}]
},
"bounds":"flush",
"spacing":22,
"resolve":{"scale":{"color":"independent"},"legend":{"color":"independent"}},
"vconcat":[
{
 "width":503,"height":39,
 "title":{"text":"24.Anonymous 4 Ne m'oubliez mie/DOMINO (Mo 236) Physio Change in Skin conductance filt responses per session over time","offset":0.25},
 "layer":[
  {"data":{"name":"h1"},"mark":{"type":"rect","height":1.7},
   "encoding":{
    "x":{"field":"t","type":"quantitative","scale":{"domain":[-10.3,160.3],"nice":false,"zero":false},"axis":{"values":[0,50,100,150],"title":null,"grid":false}},
    "x2":{"field":"t2"},
    "y":{"field":"s","type":"quantitative","title":"Session","scale":{"domain":[0.5,24.5],"reverse":true,"nice":false,"zero":false},"axis":{"values":[5,10,15,20],"grid":false}},
    "color":{"field":"v","type":"quantitative","scale":{"domain":[-1,-0.6,1],"range":["#ffc77f","#ff9f66","#000000"]},
     "legend":{"orient":"none","legendX":535,"legendY":4,"direction":"vertical","gradientLength":32,"gradientThickness":5,"title":null,"values":[-1,0,1],"labelExpr":"datum.value > 0.5 ? 'Inc' : (datum.value < -0.5 ? 'Dec' : '0')","gradientStrokeColor":"#000","gradientStrokeWidth":0.5,"labelOffset":2}}
   }},
  {"data":{"name":"sep"},"mark":{"type":"rule","color":"#dcc9b6","strokeWidth":1},
   "encoding":{"y":{"field":"s","type":"quantitative","title":"Session"}}}
 ]
},
{
 "width":503,"height":39,
 "title":{"text":"Skin conductance filt change above thresholds, 1s time frames, half overlap","offset":-6.5},
 "data":{"name":"ts"},
 "encoding":{
  "x":{"field":"t","type":"quantitative","scale":{"domain":[-10.3,160.3],"nice":false,"zero":false},"axis":{"values":[0,50,100,150],"title":null,"grid":true}}
 },
 "layer":[
  {"mark":{"type":"area","stroke":"#000","strokeWidth":0.5},"encoding":{"y":{"field":"a","type":"quantitative","title":"Activity level","scale":{"domain":[0,1],"nice":false},"axis":{"values":[0,0.5,1],"grid":true,"titlePadding":1}},
    "color":{"datum":"0.0005","type":"nominal","scale":{"domain":["0.01","0.0075","0.005","0.0025","0.001","0.0005"],"range":["#000000","#352115","#6a432a","#9f6440","#d58555","#ffa66a"]},
     "legend":{"orient":"none","legendX":511,"legendY":-10,"title":null,"symbolType":"M-2,-0.85H2V0.85H-2Z","symbolSize":121,"symbolOffset":6,"symbolStrokeColor":"#000","symbolStrokeWidth":0.5,"strokeColor":"#888","fillColor":"#fff","padding":3,"rowPadding":-2.5,"labelOffset":8.5,"symbolOpacity":1}}}},
  {"mark":{"type":"area","stroke":"#000","strokeWidth":0.5},"encoding":{"y":{"field":"b","type":"quantitative","title":"Activity level"},"color":{"datum":"0.001","type":"nominal"}}},
  {"mark":{"type":"area","stroke":"#000","strokeWidth":0.5},"encoding":{"y":{"field":"c","type":"quantitative","title":"Activity level"},"color":{"datum":"0.0025","type":"nominal"}}},
  {"mark":{"type":"area","stroke":"#000","strokeWidth":0.5},"encoding":{"y":{"field":"d","type":"quantitative","title":"Activity level"},"color":{"datum":"0.005","type":"nominal"}}},
  {"mark":{"type":"area","stroke":"#000","strokeWidth":0.5},"encoding":{"y":{"field":"e","type":"quantitative","title":"Activity level"},"color":{"datum":"0.0075","type":"nominal"}}},
  {"mark":{"type":"area","stroke":"#000","strokeWidth":0.5},"encoding":{"y":{"field":"f","type":"quantitative","title":"Activity level"},"color":{"datum":"0.01","type":"nominal"}}}
 ]
},
{
 "width":503,"height":38,
 "title":{"text":"Skin conductance filt coinc of Inc > 0.001 in 1/5s,(1s,50s) p<0.335","offset":0},
 "encoding":{
  "x":{"field":"t","type":"quantitative","scale":{"domain":[-10.3,160.3],"nice":false,"zero":false},"axis":{"values":[0,50,100,150],"title":null,"grid":true}}
 },
 "layer":[
  {"data":{"name":"ts"},"mark":{"type":"area","interpolate":"step","color":"#ffc77f"},"encoding":{"y":{"field":"p","type":"quantitative","title":"Activity level","scale":{"domain":[0,1],"nice":false},"axis":{"values":[0,0.5,1],"grid":true,"titlePadding":1}}}},
  {"data":{"name":"b1"},"mark":{"type":"square","color":"#0000ff","size":4,"opacity":1},"encoding":{"y":{"field":"v","type":"quantitative","title":"Activity level"}}},
  {"data":{"name":"l1"},"mark":{"type":"text","align":"left","baseline":"middle","fontSize":7.5,"color":"#000"},"encoding":{"y":{"field":"v","type":"quantitative","title":"Activity level"},"text":{"field":"txt"}}}
 ]
},
{
 "width":503,"height":38,
 "title":{"text":"Change in Finger temp C, filt responses per session over time, thick line separates Inc/Dec","offset":0.25},
 "layer":[
  {"data":{"name":"h2"},"mark":{"type":"rect","width":30,"height":1.7},
   "encoding":{
    "x":{"field":"t","type":"quantitative","scale":{"domain":[-10.3,160.3],"nice":false,"zero":false},"axis":{"values":[0,50,100,150],"title":null,"grid":false}},
    "y":{"field":"s","type":"quantitative","title":"Session","scale":{"domain":[0.5,24.5],"reverse":true,"nice":false,"zero":false},"axis":{"values":[5,10,15,20],"grid":false}},
    "color":{"field":"v","type":"quantitative","scale":{"domain":[-1,-0.6,1],"range":["#ffc77f","#ff9f66","#000000"]},
     "legend":{"orient":"none","legendX":535,"legendY":4,"direction":"vertical","gradientLength":32,"gradientThickness":5,"title":null,"values":[-1,0,1],"labelExpr":"datum.value > 0.5 ? 'Inc' : (datum.value < -0.5 ? 'Dec' : '0')","gradientStrokeColor":"#000","gradientStrokeWidth":0.5,"labelOffset":2}}
   }},
  {"data":{"name":"sep"},"mark":{"type":"rule","color":"#dcc9b6","strokeWidth":1},
   "encoding":{"y":{"field":"s","type":"quantitative","title":"Session"}}}
 ]
},
{
 "width":503,"height":40,
 "title":{"text":"Finger temp C, filt change above thresholds, 1s time frames, half overlap","offset":0},
 "data":{"name":"ts"},
 "encoding":{
  "x":{"field":"t","type":"quantitative","scale":{"domain":[-10.3,160.3],"nice":false,"zero":false},"axis":{"values":[0,50,100,150],"title":null,"grid":true}}
 },
 "layer":[
  {"mark":{"type":"area","stroke":"#000","strokeWidth":0.4},"encoding":{"y":{"field":"q","type":"quantitative","title":"Activity level","scale":{"domain":[0,1],"nice":false},"axis":{"values":[0,0.5,1],"grid":true,"titlePadding":1}},
    "color":{"datum":"−0.002","type":"nominal","scale":{"domain":["0.002","0.001","0","−0.001","−0.002"],"range":["#000000","#402819","#805033","#bf784c","#ffa066"]},
     "legend":{"orient":"none","legendX":511,"legendY":-3,"title":null,"symbolType":"M-2,-0.68H2V0.68H-2Z","symbolSize":121,"symbolOffset":6,"symbolStrokeColor":"#000","symbolStrokeWidth":0.5,"strokeColor":"#888","fillColor":"#fff","padding":3,"rowPadding":-5,"labelOffset":8.5,"symbolOpacity":1}}}},
  {"mark":{"type":"area","stroke":"#000","strokeWidth":0.4},"encoding":{"y":{"field":"r","type":"quantitative","title":"Activity level"},"color":{"datum":"−0.001","type":"nominal"}}},
  {"mark":{"type":"area","stroke":"#000","strokeWidth":0.4},"encoding":{"y":{"field":"m","type":"quantitative","title":"Activity level"},"color":{"datum":"0","type":"nominal"}}},
  {"mark":{"type":"area","stroke":"#000","strokeWidth":0.4},"encoding":{"y":{"field":"u","type":"quantitative","title":"Activity level"},"color":{"datum":"0.001","type":"nominal"}}},
  {"mark":{"type":"area","stroke":"#000","strokeWidth":0.4},"encoding":{"y":{"field":"w","type":"quantitative","title":"Activity level"},"color":{"datum":"0.002","type":"nominal"}}},
  {"mark":{"type":"line","color":"#000","strokeWidth":1.5},"encoding":{"y":{"field":"m","type":"quantitative","title":"Activity level"}}}
 ]
},
{
 "width":503,"height":38,
 "title":{"text":"Finger temp C, filt coinc of Dec > 0 in 1/2s,(1s,50s) p<0.029","offset":0},
 "encoding":{
  "x":{"field":"t","type":"quantitative","scale":{"domain":[-10.3,160.3],"nice":false,"zero":false},"axis":{"values":[0,50,100,150],"title":null,"grid":true}}
 },
 "layer":[
  {"data":{"name":"ts"},"mark":{"type":"area","interpolate":"step","color":"#ffc77f"},"encoding":{"y":{"field":"z","type":"quantitative","title":"Activity level","scale":{"domain":[0,1],"nice":false},"axis":{"values":[0,0.5,1],"grid":true,"titlePadding":1}}}},
  {"data":{"name":"b2"},"mark":{"type":"square","color":"#0000ff","size":4,"opacity":1},"encoding":{"y":{"field":"v","type":"quantitative","title":"Activity level"}}},
  {"data":{"name":"l2"},"mark":{"type":"text","align":"left","baseline":"middle","fontSize":7.5,"color":"#000"},"encoding":{"y":{"field":"v","type":"quantitative","title":"Activity level"},"text":{"field":"txt"}}}
 ]
}
]
}
